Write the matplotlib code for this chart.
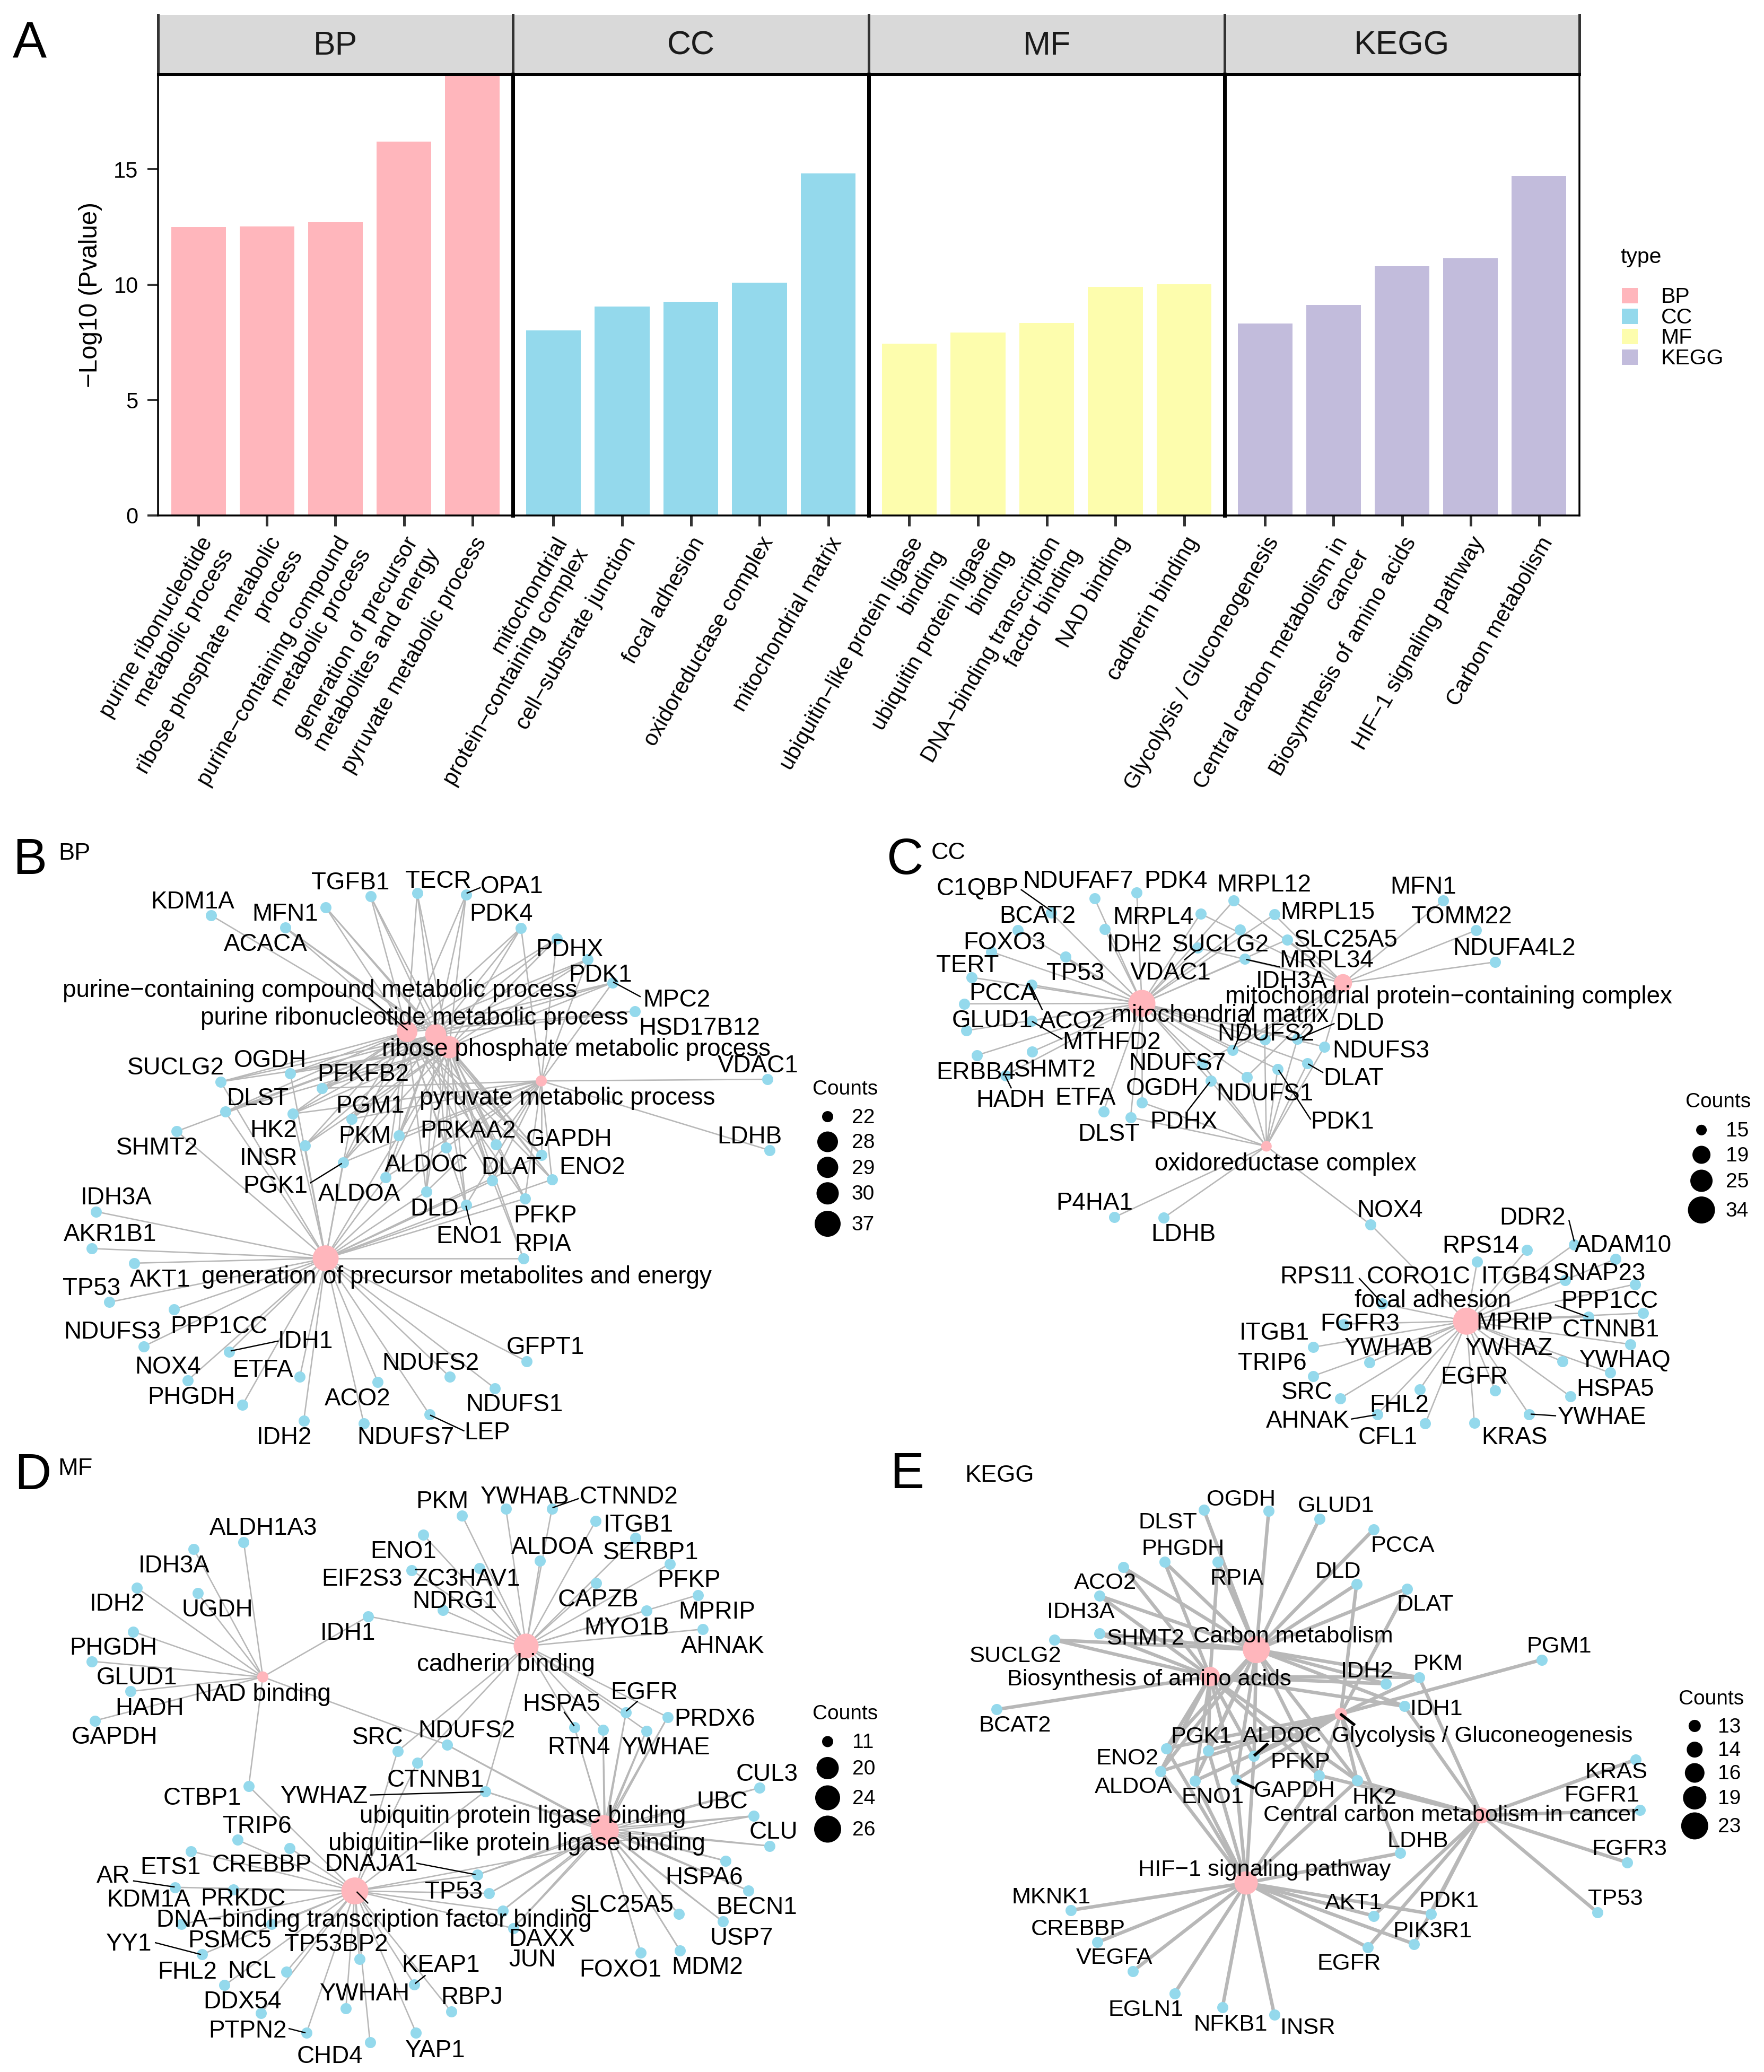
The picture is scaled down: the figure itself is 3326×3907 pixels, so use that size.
import matplotlib
matplotlib.use("Agg")
import matplotlib.pyplot as plt
from matplotlib.patches import Rectangle

plt.rcParams['font.family'] = ['Liberation Sans', 'DejaVu Sans']

W = 3326
H = 3907
DPI = 250

PINK = '#FFB6BC'
BLUE = '#94D9EC'
YELLOW = '#FDFDAD'
PURPLE = '#C2BCDC'
EDGE = '#B8B8B8'

#bar chart data
facets = ['BP', 'CC', 'MF', 'KEGG']
facet_colors = [PINK, BLUE, YELLOW, PURPLE]
bp_terms = ['purine ribonucleotide\nmetabolic process', 'ribose phosphate metabolic\nprocess',
            'purine\u2212containing compound\nmetabolic process', 'generation of precursor\nmetabolites and energy',
            'pyruvate metabolic process']
bp_values = [12.51, 12.53, 12.71, 16.2, 19.12]
cc_terms = ['mitochondrial\nprotein\u2212containing complex', 'cell\u2212substrate junction', 'focal adhesion',
            'oxidoreductase complex', 'mitochondrial matrix']
cc_values = [8.03, 9.05, 9.25, 10.09, 14.82]
mf_terms = ['ubiquitin\u2212like protein ligase\nbinding', 'ubiquitin protein ligase\nbinding',
            'DNA\u2212binding transcription\nfactor binding', 'NAD binding', 'cadherin binding']
mf_values = [7.44, 7.92, 8.35, 9.91, 10.02]
kegg_terms = ['Glycolysis / Gluconeogenesis', 'Central carbon metabolism in\ncancer', 'Biosynthesis of amino acids',
              'HIF\u22121 signaling pathway', 'Carbon metabolism']
kegg_values = [8.33, 9.12, 10.81, 11.15, 14.71]
facet_terms = [bp_terms, cc_terms, mf_terms, kegg_terms]
facet_values = [bp_values, cc_values, mf_values, kegg_values]

#network B
b_terms = ['purine\u2212containing compound metabolic process', 'purine ribonucleotide metabolic process',
           'ribose phosphate metabolic process', 'pyruvate metabolic process',
           'generation of precursor metabolites and energy']
b_term_x = [725, 776, 800, 964, 580]
b_term_y = [530, 537, 568, 651, 1088]
b_term_lx = [570, 738, 1026, 1010, 813]
b_term_ly = [425, 493, 571, 691, 1131]
b_term_counts = [28, 29, 30, 22, 37]
b_genes = ['KDM1A', 'MFN1', 'ACACA', 'TGFB1', 'TECR', 'OPA1', 'PDK4', 'PDHX', 'PDK1', 'MPC2', 'HSD17B12', 'VDAC1', 'LDHB',
           'SUCLG2', 'OGDH', 'PFKFB2', 'DLST', 'SHMT2', 'HK2', 'PGM1', 'PKM', 'INSR', 'PGK1', 'ALDOC', 'PRKAA2', 'ALDOA',
           'GAPDH', 'DLAT', 'ENO2', 'DLD', 'ENO1', 'PFKP', 'RPIA', 'IDH3A', 'AKR1B1', 'AKT1', 'TP53', 'NDUFS3', 'PPP1CC',
           'NOX4', 'IDH1', 'ETFA', 'PHGDH', 'IDH2', 'ACO2', 'NDUFS7', 'LEP', 'NDUFS2', 'NDUFS1', 'GFPT1']
b_x = [376, 508, 580, 660, 743, 830, 928, 992, 1047, 1091, 1131, 1367, 1371,
       393, 517, 573, 401, 315, 521, 626, 710, 543, 611, 794, 883, 687,
       964, 877, 983, 759, 830, 935, 932, 171, 163, 239, 195, 256, 310,
       334, 408, 534, 432, 541, 673, 648, 765, 801, 881, 938]
b_y = [243, 273, 223, 196, 188, 192, 274, 300, 351, 409, 479, 647, 822,
       653, 632, 669, 727, 775, 732, 745, 785, 810, 852, 815, 808, 888,
       833, 897, 894, 924, 957, 941, 1088, 973, 1064, 1100, 1196, 1305, 1214,
       1389, 1318, 1380, 1449, 1488, 1393, 1495, 1473, 1380, 1408, 1342]
b_lx = [343, 508, 473, 624, 780, 912, 893, 1014, 1069, 1205, 1246, 1350, 1335,
        313, 481, 647, 459, 280, 487, 659, 650, 478, 490, 759, 834, 640,
        1014, 911, 1055, 774, 836, 971, 967, 207, 196, 285, 163, 200, 390,
        299, 544, 468, 341, 506, 637, 722, 868, 767, 916, 971]
b_ly = [207, 237, 312, 160, 157, 170, 238, 325, 388, 449, 518, 611, 786,
        616, 598, 632, 692, 814, 771, 710, 785, 840, 908, 856, 772, 928,
        793, 862, 862, 964, 1032, 981, 1052, 936, 1027, 1139, 1160, 1267, 1254,
        1353, 1291, 1361, 1428, 1527, 1432, 1527, 1515, 1344, 1446, 1305]
b_links = ['0', '012', '012', '012', '012', '012', '0123', '0123', '0123', '0123', '01', '3', '3',
           '0124', '0124', '0123', '0124', '14', '01234', '01234', '01234', '0124', '01234', '01234', '0123', '01234',
           '01234', '01234', '01234', '01234', '01234', '01234', '124', '4', '4', '4', '4', '4', '4',
           '4', '4', '4', '4', '4', '4', '4', '4', '4', '4', '4']
b_leaders = [(657, 447, 725, 525), (832, 188, 855, 175), (1093, 408, 1140, 443), (553, 902, 608, 855),
             (830, 960, 838, 1005), (412, 1316, 495, 1292), (767, 1475, 826, 1513)]
b_legend_counts = [22, 28, 29, 30, 37]
b_legend_sizes = [21, 39, 40, 42, 49]
b_legend_y = [739, 801, 864, 928, 1003]

#network C
c_terms = ['mitochondrial matrix', 'mitochondrial protein\u2212containing complex', 'oxidoreductase complex', 'focal adhesion']
c_term_x = [464, 821, 685, 1040]
c_term_y = [460, 410, 812, 1243]
c_term_lx = [603, 1008, 719, 980]
c_term_ly = [487, 441, 853, 1190]
c_term_counts = [34, 19, 15, 34]
c_genes = ['C1QBP', 'NDUFAF7', 'PDK4', 'MRPL12', 'BCAT2', 'MRPL4', 'MRPL15', 'IDH2', 'SUCLG2', 'SLC25A5', 'MRPL34', 'VDAC1',
           'IDH3A', 'MFN1', 'TOMM22', 'NDUFA4L2', 'FOXO3', 'TP53', 'TERT', 'PCCA', 'ACO2', 'GLUD1', 'MTHFD2', 'ERBB4',
           'SHMT2', 'HADH', 'ETFA', 'OGDH', 'DLST', 'PDHX', 'NDUFS7', 'NDUFS1', 'PDK1', 'NDUFS2', 'DLD', 'NDUFS3', 'DLAT',
           'P4HA1', 'LDHB', 'NOX4', 'DDR2', 'ADAM10', 'RPS14', 'SNAP23', 'ITGB4', 'CORO1C', 'RPS11', 'PPP1CC', 'MPRIP',
           'CTNNB1', 'YWHAQ', 'HSPA5', 'YWHAZ', 'YWHAE', 'KRAS', 'EGFR', 'FGFR3', 'ITGB1', 'YWHAB', 'TRIP6', 'SRC',
           'AHNAK', 'FHL2', 'CFL1']
c_x = [303, 380, 455, 627, 244, 568, 699, 398, 638, 722, 647, 563,
       625, 999, 1057, 1091, 197, 328, 162, 149, 268, 152, 268, 171,
       269, 222, 396, 464, 444, 586, 571, 650, 705, 682, 740, 788, 758,
       415, 503, 870, 1231, 1304, 1147, 1339, 1215, 1059, 890, 1353, 1256,
       1331, 1295, 1224, 1210, 1151, 1054, 1091, 822, 768, 868, 768, 816,
       882, 957, 967]
c_y = [237, 201, 187, 207, 279, 239, 241, 277, 278, 303, 350, 323,
       575, 207, 280, 358, 333, 345, 396, 461, 414, 527, 503, 588,
       579, 637, 726, 704, 741, 651, 609, 641, 622, 549, 548, 567, 607,
       987, 988, 1005, 1054, 1090, 1067, 1152, 1142, 1096, 1200, 1223, 1232,
       1300, 1370, 1428, 1342, 1472, 1494, 1414, 1250, 1307, 1345, 1378, 1433,
       1472, 1411, 1495]
c_lx = [172, 351, 524, 681, 279, 484, 794, 451, 604, 826, 792, 515,
        730, 963, 1031, 1125, 220, 346, 155, 217, 341, 199, 410, 170,
        310, 231, 364, 500, 405, 538, 527, 682, 820, 684, 851, 888, 840,
        380, 538, 904, 1157, 1318, 1065, 1276, 1128, 955, 776, 1294, 1125,
        1296, 1322, 1304, 1116, 1281, 1125, 1054, 851, 699, 902, 695, 757,
        758, 921, 900]
c_ly = [175, 157, 157, 166, 243, 245, 234, 313, 313, 302, 352, 382,
        403, 171, 244, 323, 308, 384, 364, 433, 503, 500, 554, 628,
        622, 696, 691, 667, 780, 749, 606, 680, 749, 533, 507, 575, 643,
        950, 1027, 968, 986, 1054, 1055, 1123, 1131, 1131, 1131, 1191, 1245,
        1262, 1338, 1408, 1308, 1478, 1527, 1378, 1247, 1270, 1308, 1344, 1416,
        1487, 1448, 1527]
c_links = ['0', '0', '0', '01', '0', '01', '01', '0', '0', '01', '01', '01',
           '01', '1', '1', '1', '0', '0', '0', '0', '0', '0', '0', '0',
           '0', '0', '0', '02', '02', '02', '012', '012', '02', '012', '012', '012', '02',
           '2', '2', '23', '3', '3', '3', '3', '3', '3', '3', '3', '3',
           '3', '3', '3', '3', '3', '3', '3', '3', '3', '3', '3', '3',
           '3', '3', '3']
c_leaders = [(250, 180, 303, 232), (650, 352, 708, 370), (540, 352, 560, 330), (664, 455, 627, 572), (268, 420, 287, 475),
             (270, 505, 322, 548), (222, 640, 232, 668), (584, 655, 545, 725), (707, 625, 763, 745), (805, 510, 745, 545),
             (760, 610, 785, 630), (1222, 995, 1231, 1045), (850, 1138, 895, 1205), (1198, 1203, 1255, 1232),
             (1155, 1472, 1198, 1476), (836, 1484, 878, 1474)]
c_legend_counts = [15, 19, 25, 34]
c_legend_sizes = [20, 34, 42, 51]
c_legend_y = [772, 833, 897, 969]

#network D
d_terms = ['NAD binding', 'cadherin binding', 'ubiquitin protein ligase binding', 'ubiquitin\u2212like protein ligase binding',
           'DNA\u2212binding transcription factor binding']
d_term_x = [468, 937, 1076, 1078, 632]
d_term_y = [584, 507, 962, 968, 1117]
d_term_lx = [468, 901, 931, 920, 666]
d_term_ly = [625, 550, 928, 997, 1187]
d_term_counts = [11, 24, 26, 26, 26]
d_genes = ['ALDH1A3', 'IDH3A', 'IDH2', 'UGDH', 'PHGDH', 'GLUD1', 'HADH', 'GAPDH', 'IDH1', 'CTBP1', 'PKM', 'YWHAB', 'CTNND2',
           'ITGB1', 'ENO1', 'ALDOA', 'SERBP1', 'EIF2S3', 'ZC3HAV1', 'PFKP', 'NDRG1', 'CAPZB', 'MPRIP', 'MYO1B', 'AHNAK',
           'EGFR', 'HSPA5', 'PRDX6', 'RTN4', 'YWHAE', 'SRC', 'NDUFS2', 'CTNNB1', 'YWHAZ', 'CUL3', 'UBC', 'CLU', 'HSPA6',
           'BECN1', 'USP7', 'SLC25A5', 'MDM2', 'FOXO1', 'DNAJA1', 'TP53', 'DAXX', 'JUN', 'TRIP6', 'CREBBP', 'ETS1', 'AR',
           'KDM1A', 'PRKDC', 'PSMC5', 'YY1', 'FHL2', 'NCL', 'DDX54', 'PTPN2', 'TP53BP2', 'YWHAH', 'CHD4', 'KEAP1', 'RBPJ', 'YAP1']
d_x = [434, 345, 244, 352, 237, 163, 232, 169, 656, 443, 823, 901, 983,
       1061, 754, 962, 1132, 733, 854, 1193, 789, 1062, 1243, 1151, 1252,
       1115, 1023, 1189, 1074, 1151, 708, 796, 743, 864, 1353, 1342, 1371, 1292,
       1333, 1287, 1209, 1211, 1141, 850, 871, 895, 914, 423, 516, 340, 312,
       323, 416, 484, 360, 400, 510, 465, 546, 640, 616, 659, 738, 804, 741]
d_y = [248, 265, 362, 375, 471, 545, 620, 693, 433, 856, 182, 165, 165,
       195, 230, 294, 238, 318, 313, 302, 417, 350, 380, 419, 465,
       672, 709, 684, 716, 718, 769, 753, 798, 869, 860, 930, 1005, 1042,
       1116, 1193, 1175, 1265, 1271, 1077, 1123, 1166, 1210, 990, 1010, 1018, 1108,
       1200, 1114, 1200, 1275, 1352, 1318, 1422, 1470, 1286, 1410, 1494, 1350, 1418, 1470]
d_lx = [469, 310, 209, 387, 202, 244, 266, 204, 620, 360, 788, 935, 1120,
        1137, 718, 984, 1159, 645, 831, 1227, 810, 1065, 1277, 1116, 1287,
        1147, 1000, 1273, 1031, 1186, 673, 831, 776, 578, 1366, 1286, 1378, 1254,
        1348, 1321, 1108, 1260, 1105, 661, 808, 965, 948, 458, 466, 304, 202,
        265, 433, 409, 230, 334, 449, 432, 441, 599, 650, 587, 785, 840, 775]
d_ly = [211, 305, 400, 414, 510, 584, 660, 732, 472, 884, 145, 133, 133,
        203, 269, 258, 272, 338, 338, 341, 393, 389, 420, 459, 505,
        620, 649, 687, 756, 758, 733, 716, 838, 880, 824, 893, 968, 1081,
        1155, 1232, 1150, 1305, 1312, 1049, 1117, 1235, 1286, 953, 1050, 1057, 1078,
        1137, 1135, 1239, 1246, 1317, 1315, 1390, 1463, 1248, 1371, 1527, 1300, 1380, 1512]
d_links = ['0', '0', '0', '0', '0', '0', '0', '0', '01', '04', '1', '1', '1',
           '1', '1', '1', '1', '1', '1', '1', '1', '1', '1', '1', '1',
           '123', '123', '123', '123', '123', '14', '023', '14', '1234', '23', '234', '23', '23',
           '23', '23', '23', '23', '23', '234', '234', '234', '234', '4', '4', '4', '4',
           '4', '4', '4', '4', '4', '4', '4', '4', '4', '4', '4', '4', '4', '4']
d_leaders = [(636, 1120, 655, 1147), (985, 162, 1030, 140), (1116, 668, 1135, 645), (1022, 705, 1005, 672),
             (660, 878, 860, 870), (742, 1048, 846, 1076), (238, 1092, 310, 1107), (277, 1246, 357, 1275),
             (515, 1460, 543, 1470), (740, 1347, 757, 1328)]
d_legend_counts = [11, 20, 24, 26]
d_legend_sizes = [21, 42, 47, 51]
d_legend_y = [745, 811, 885, 963]

#network E
e_terms = ['Carbon metabolism', 'Biosynthesis of amino acids', 'Glycolysis / Gluconeogenesis',
           'Central carbon metabolism in cancer', 'HIF\u22121 signaling pathway']
e_term_x = [667, 585, 817, 1067, 649]
e_term_y = [516, 583, 676, 929, 1097]
e_term_lx = [733, 477, 1068, 1012, 682]
e_term_ly = [480, 587, 729, 926, 1062]
e_term_counts = [23, 16, 13, 14, 19]
e_genes = ['OGDH', 'DLST', 'GLUD1', 'PCCA', 'PHGDH', 'RPIA', 'ACO2', 'DLD', 'DLAT', 'IDH3A', 'SHMT2', 'SUCLG2', 'PGM1', 'PKM',
           'IDH2', 'IDH1', 'BCAT2', 'PGK1', 'ALDOC', 'ENO2', 'PFKP', 'ALDOA', 'ENO1', 'GAPDH', 'HK2', 'KRAS', 'FGFR1', 'FGFR3',
           'TP53', 'LDHB', 'AKT1', 'PDK1', 'PIK3R1', 'EGFR', 'MKNK1', 'CREBBP', 'VEGFA', 'EGLN1', 'NFKB1', 'INSR']
e_x = [689, 574, 779, 875, 504, 599, 431, 845, 935, 389, 389, 309, 1174, 956,
       897, 930, 206, 582, 663, 507, 778, 497, 558, 631, 846, 1340, 1348, 1325,
       1272, 922, 875, 977, 947, 865, 338, 385, 448, 522, 607, 699]
e_y = [171, 168, 190, 217, 297, 297, 311, 353, 364, 382, 476, 492, 541, 585,
       601, 657, 665, 767, 781, 762, 829, 819, 843, 840, 842, 790, 916, 1046,
       1170, 1023, 1179, 1174, 1249, 1258, 1165, 1245, 1317, 1372, 1407, 1425]
e_lx = [640, 510, 809, 927, 537, 632, 399, 812, 967, 356, 470, 239, 1205, 989,
        863, 987, 239, 570, 713, 438, 745, 449, 590, 735, 877, 1306, 1280, 1329,
        1304, 954, 840, 1009, 980, 832, 303, 351, 415, 471, 621, 758]
e_ly = [140, 196, 155, 255, 262, 336, 347, 319, 401, 420, 486, 530, 506, 549,
        568, 662, 703, 730, 729, 784, 794, 855, 881, 865, 882, 818, 877, 1010,
        1135, 990, 1145, 1139, 1215, 1295, 1130, 1210, 1281, 1411, 1447, 1456]
e_links = ['0', '0', '0', '0', '01', '01', '01', '02', '02', '01', '01', '01', '2', '0123',
           '01', '013', '1', '0124', '0124', '0124', '01234', '0124', '0124', '0124', '01234', '3', '3', '3',
           '3', '24', '34', '34', '34', '34', '4', '4', '4', '4', '4', '4']
e_leaders = [(818, 678, 840, 702), (665, 778, 686, 752), (635, 842, 662, 860)]
e_legend_counts = [13, 14, 16, 19, 23]
e_legend_sizes = [23, 30, 37, 44, 51]
e_legend_y = [706, 765, 823, 885, 955]


fig = plt.figure(figsize=(W / DPI, H / DPI), dpi=DPI)
px = 72 / DPI  #one image pixel in points


def box(left, top, right, bottom):
    #axes rectangle from image pixels
    return [left / W, 1 - bottom / H, (right - left) / W, (bottom - top) / H]


#panel A bars
edges = [298, 967, 1638, 2309, 2978]
for i, name in enumerate(facets):
    strip = fig.add_axes(box(edges[i], 28, edges[i + 1], 140))
    strip.set_facecolor('#D9D9D9')
    strip.set_xticks([])
    strip.set_yticks([])
    strip.spines['top'].set_visible(False)
    for side in ['left', 'right', 'bottom']:
        strip.spines[side].set_color('#333333')
        strip.spines[side].set_linewidth(5 * px)
    strip.text(0.5, 0.48, name, ha='center', va='center', fontsize=18, color='#1A1A1A', transform=strip.transAxes)

    ax = fig.add_axes(box(edges[i], 140, edges[i + 1], 972))
    positions = list(range(1, 6))
    ax.bar(positions, facet_values[i], width=0.8, color=facet_colors[i])
    ax.set_xlim(0.41, 5.59)
    ax.set_ylim(0, 19.12)
    ax.set_xticks(positions)
    ax.set_xticklabels(facet_terms[i], rotation=60, ha='right', va='top', rotation_mode='anchor',
                       multialignment='right', fontsize=12, color='black')
    ax.tick_params(axis='x', length=20 * px, width=5 * px, color='#333333', pad=4)
    for side in ['top', 'left', 'right', 'bottom']:
        ax.spines[side].set_color('black')
    ax.spines['bottom'].set_linewidth(3.5 * px)
    ax.spines['top'].set_linewidth(5 * px)
    ax.spines['left'].set_linewidth((3.5 if i == 0 else 7) * px)
    ax.spines['right'].set_linewidth((3.5 if i == 3 else 7) * px)
    if i == 0:
        ax.set_yticks([0, 5, 10, 15])
        ax.tick_params(axis='y', length=20 * px, width=4 * px, color='#333333', labelsize=12, pad=5)
        ax.set_ylabel('\u2212Log10 (Pvalue)', fontsize=13.7, labelpad=6)
    else:
        ax.set_yticks([])

#legend of panel A
leg = fig.add_axes(box(3000, 450, 3326, 800))
leg.set_xlim(3000, 3326)
leg.set_ylim(800, 450)
leg.axis('off')
leg.text(3055, 485, 'type', fontsize=11.8, va='center')
for i, name in enumerate(facets):
    leg.add_patch(Rectangle((3058, 543 + 38.7 * i), 30, 29, facecolor=facet_colors[i], edgecolor='none'))
    leg.text(3132, 560 + 38.7 * i, name, fontsize=11.8, va='center')


def draw_network(left, top, width, height, title, title_x, title_y, letter, letter_x, letter_y,
                 terms, tx, ty, tlx, tly, counts, genes, gx, gy, glx, gly, links, leaders,
                 legend_counts, legend_sizes, legend_y, legend_x, legend_tx, legend_title_x, legend_title_y,
                 edge_lw=2.6, leader_lw=2.4, label_size=13.2):
    ax = fig.add_axes(box(left, top, left + width, top + height))
    ax.set_xlim(0, 1568)
    ax.set_ylim(1568, 0)
    ax.axis('off')
    ax.patch.set_alpha(0)
    size_of = dict(zip(legend_counts, legend_sizes))

    #edges first so that the points sit on top
    for g in range(len(genes)):
        for t in links[g]:
            t = int(t)
            ax.plot([gx[g], tx[t]], [gy[g], ty[t]], color=EDGE, lw=edge_lw * px, zorder=1, solid_capstyle='round')

    ax.scatter(gx, gy, s=(21 * px) ** 2, color=BLUE, linewidths=0, zorder=2)
    ax.scatter(tx, ty, s=[(size_of[c] * px) ** 2 for c in counts], color=PINK, linewidths=0, zorder=2)

    for x0, y0, x1, y1 in leaders:
        ax.plot([x0, x1], [y0, y1], color='black', lw=leader_lw * px, zorder=3)

    #labels sit a little lower than the read centres
    shift = 3
    for g in range(len(genes)):
        ax.text(glx[g], gly[g] + shift, genes[g], fontsize=label_size, ha='center', va='center', zorder=4)
    for t in range(len(terms)):
        ax.text(tlx[t], tly[t] + shift, terms[t], fontsize=label_size, ha='center', va='center', zorder=4)

    ax.text(title_x, title_y + shift, title, fontsize=13, ha='center', va='center')
    ax.text(letter_x, letter_y + shift, letter, fontsize=27.7, ha='center', va='center')

    #size legend
    ax.text(legend_title_x, legend_title_y + shift, 'Counts', fontsize=11.2, ha='center', va='center')
    ax.scatter([legend_x] * len(legend_y), legend_y, s=[(d * px) ** 2 for d in legend_sizes], color='black', linewidths=0)
    for c, y in zip(legend_counts, legend_y):
        ax.text(legend_tx, y + shift, str(c), fontsize=11.2, ha='left', va='center')


draw_network(0, 1540, 1660, 1200, 'BP', 133, 88, 'B', 53, 105,
             b_terms, b_term_x, b_term_y, b_term_lx, b_term_ly, b_term_counts,
             b_genes, b_x, b_y, b_lx, b_ly, b_links, b_leaders,
             b_legend_counts, b_legend_sizes, b_legend_y, 1474, 1517, 1505, 668)
draw_network(1660, 1540, 1666, 1200, 'CC', 121, 86, 'C', 43, 105,
             c_terms, c_term_x, c_term_y, c_term_lx, c_term_ly, c_term_counts,
             c_genes, c_x, c_y, c_lx, c_ly, c_links, c_leaders,
             c_legend_counts, c_legend_sizes, c_legend_y, 1457, 1500, 1487, 700)
draw_network(0, 2720, 1660, 1187, 'MF', 134, 62, 'D', 58, 80,
             d_terms, d_term_x, d_term_y, d_term_lx, d_term_ly, d_term_counts,
             d_genes, d_x, d_y, d_lx, d_ly, d_links, d_leaders,
             d_legend_counts, d_legend_sizes, d_legend_y, 1474, 1518, 1505, 673)
draw_network(1660, 2720, 1666, 1187, 'KEGG', 211, 80, 'E', 47, 78,
             e_terms, e_term_x, e_term_y, e_term_lx, e_term_ly, e_term_counts,
             e_genes, e_x, e_y, e_lx, e_ly, e_links, e_leaders,
             e_legend_counts, e_legend_sizes, e_legend_y, 1445, 1486, 1474, 637,
             edge_lw=6.5, leader_lw=5.5, label_size=12.5)

fig.text(56 / W, 1 - 82 / H, 'A', fontsize=27.7, ha='center', va='center')

fig.savefig('out.png', dpi=DPI)
